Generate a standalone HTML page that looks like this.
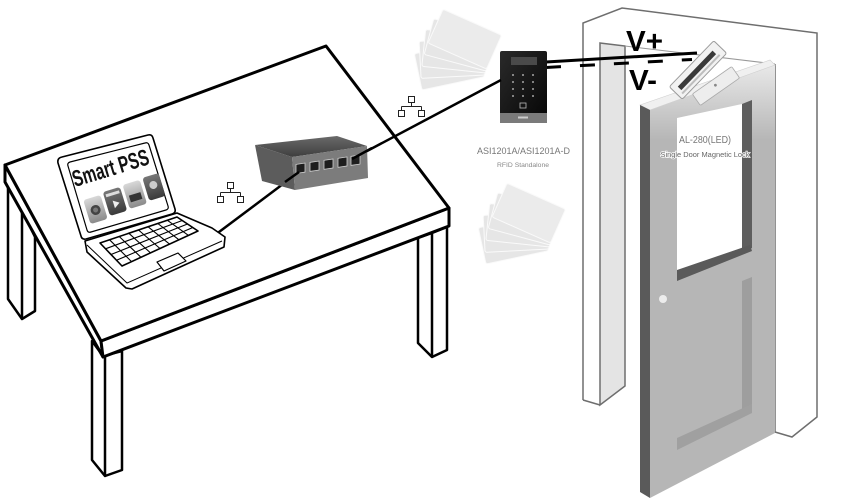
<!DOCTYPE html>
<html>
<head>
<meta charset="utf-8">
<style>
  html,body{margin:0;padding:0;background:#fff;}
  body{width:864px;height:502px;overflow:hidden;}
  svg{display:block;}
  text{font-family:"Liberation Sans",sans-serif;}
</style>
</head>
<body>
<svg width="864" height="502" viewBox="0 0 864 502" xmlns="http://www.w3.org/2000/svg">
  <defs>
    <linearGradient id="doorG" x1="0" y1="60" x2="0" y2="140" gradientUnits="userSpaceOnUse">
      <stop offset="0" stop-color="#ececec"/>
      <stop offset="1" stop-color="#b6b6b6"/>
    </linearGradient>
    <linearGradient id="kpG" x1="0" y1="0" x2="1" y2="1">
      <stop offset="0" stop-color="#2a2a2a"/>
      <stop offset="1" stop-color="#050505"/>
    </linearGradient>
    <linearGradient id="swTop" x1="0" y1="0" x2="0" y2="1">
      <stop offset="0" stop-color="#6a6a6a"/>
      <stop offset="1" stop-color="#3e3e3e"/>
    </linearGradient>
    <linearGradient id="icoA" x1="0" y1="0" x2="0" y2="1">
      <stop offset="0" stop-color="#d8d8d8"/>
      <stop offset="1" stop-color="#8a8a8a"/>
    </linearGradient>
    <linearGradient id="icoB" x1="0" y1="0" x2="0" y2="1">
      <stop offset="0" stop-color="#777"/>
      <stop offset="1" stop-color="#3a3a3a"/>
    </linearGradient>
  </defs>

  <!-- ================= DOOR / WALL ================= -->
  <g stroke="#6e6e6e" stroke-width="1.5" fill="none">
    <polyline points="583,400 583,23 622,8 817,33 817,417 792,437 775,432"/>
    <polygon points="600,43 625,46 625,386 600,405" fill="#e4e4e4"/>
    <polyline points="583,400 600,405"/>
    <line x1="775" y1="64" x2="775" y2="432"/>
    <line x1="625" y1="46" x2="775" y2="64" stroke="#999" stroke-width="1"/>
  </g>

  <polygon points="650,110 775,65 775,433 650,498" fill="url(#doorG)"/>
  <polygon points="640,105 770,60 775,65 650,110" fill="#f0f0f0" stroke="#cfcfcf" stroke-width="0.6"/>
  <polygon points="640,105 650,110 650,498 640,492" fill="#5a5a5a"/>
  <polygon points="677,118 742,104 742,248 677,272" fill="#ffffff"/>
  <polygon points="742,104 752,100 752,248 742,252" fill="#5e5e5e"/>
  <polygon points="677,270 750,245 752,251 677,281" fill="#5a5a5a"/>
  <polygon points="742,281 752,277 752,410 742,415" fill="#9e9e9e"/>
  <polygon points="677,438 752,404 752,413 677,450" fill="#a0a0a0"/>
  <circle cx="663" cy="299" r="4" fill="#ececec"/>

  <!-- magnetic lock -->
  <g transform="translate(698,70) rotate(-46)">
    <rect x="-32" y="-9" width="64" height="18" rx="2" fill="#f2f2f2" stroke="#9a9a9a" stroke-width="1"/>
    <rect x="-26" y="-3" width="50" height="5" fill="#3a3a3a"/>
    <rect x="-28" y="4" width="54" height="2" fill="#bdbdbd"/>
  </g>
  <g transform="translate(716,86) rotate(-35)">
    <rect x="-24" y="-7" width="48" height="14" rx="1.5" fill="#ededed" stroke="#aaa" stroke-width="0.8"/>
    <circle cx="0" cy="-1" r="1.4" fill="#888"/>
  </g>

  <line x1="546" y1="62" x2="697" y2="53" stroke="#000" stroke-width="3"/>
  <line x1="546" y1="67.5" x2="692" y2="59.5" stroke="#000" stroke-width="3" stroke-dasharray="15 19"/>

  <text x="626" y="51" font-size="29" font-weight="bold" fill="#000" textLength="37" lengthAdjust="spacingAndGlyphs">V+</text>
  <text x="629" y="90" font-size="29" font-weight="bold" fill="#000" textLength="28" lengthAdjust="spacingAndGlyphs">V-</text>

  <text x="705" y="143" font-size="10" fill="#777" text-anchor="middle" textLength="52" lengthAdjust="spacingAndGlyphs">AL-280(LED)</text>
  <text x="705" y="157" font-size="7" fill="#666" stroke="#fff" stroke-width="1.4" paint-order="stroke" text-anchor="middle" textLength="89" lengthAdjust="spacingAndGlyphs">Single Door Magnetic Lock</text>

  <!-- ================= CARDS ================= -->
  <g fill="#e6e6e6" stroke="#fafafa" stroke-width="1">
    <rect x="-64" y="-37" width="64" height="37" rx="2" transform="translate(484.6,76.7) rotate(-12)"/>
    <rect x="-64" y="-37" width="64" height="37" rx="2" transform="translate(485,75) rotate(-3)"/>
    <rect x="-64" y="-37" width="64" height="37" rx="2" transform="translate(485.5,73) rotate(6)"/>
    <rect x="-64" y="-37" width="64" height="37" rx="2" transform="translate(486,71) rotate(15)"/>
    <rect x="-64" y="-37" width="64" height="37" rx="2" transform="translate(486.5,69) rotate(24)" fill="#ebebeb"/>
  </g>
  <g transform="translate(64,174)" fill="#e6e6e6" stroke="#fafafa" stroke-width="1">
    <rect x="-64" y="-37" width="64" height="37" rx="2" transform="translate(484.6,76.7) rotate(-12)"/>
    <rect x="-64" y="-37" width="64" height="37" rx="2" transform="translate(485,75) rotate(-3)"/>
    <rect x="-64" y="-37" width="64" height="37" rx="2" transform="translate(485.5,73) rotate(6)"/>
    <rect x="-64" y="-37" width="64" height="37" rx="2" transform="translate(486,71) rotate(15)"/>
    <rect x="-64" y="-37" width="64" height="37" rx="2" transform="translate(486.5,69) rotate(24)" fill="#ebebeb"/>
  </g>

  <!-- ================= KEYPAD ================= -->
  <rect x="500" y="51" width="47" height="72" rx="2" fill="url(#kpG)"/>
  <rect x="500" y="113" width="47" height="10" fill="#7a7a7a"/>
  <rect x="518" y="116.5" width="10" height="2" fill="#ccc"/>
  <rect x="511" y="57" width="26" height="8" fill="#4a4a4a"/>
  <g fill="#cfcfcf">
    <circle cx="513" cy="75" r="0.9"/><circle cx="523" cy="75" r="0.9"/><circle cx="533" cy="75" r="0.9"/>
    <circle cx="513" cy="82" r="0.9"/><circle cx="523" cy="82" r="0.9"/><circle cx="533" cy="82" r="0.9"/>
    <circle cx="513" cy="89" r="0.9"/><circle cx="523" cy="89" r="0.9"/><circle cx="533" cy="89" r="0.9"/>
    <circle cx="513" cy="96" r="0.9"/><circle cx="523" cy="96" r="0.9"/><circle cx="533" cy="96" r="0.9"/>
  </g>
  <rect x="520" y="103" width="6" height="5" fill="none" stroke="#bbb" stroke-width="0.8"/>

  <text x="523.5" y="154" font-size="9.5" fill="#777" text-anchor="middle" textLength="93" lengthAdjust="spacingAndGlyphs">ASI1201A/ASI1201A-D</text>
  <text x="523" y="167" font-size="6.5" fill="#888" text-anchor="middle" textLength="52" lengthAdjust="spacingAndGlyphs">RFID Standalone</text>

  <!-- ================= TABLE ================= -->
  <g stroke="#000" stroke-width="3" stroke-linejoin="round" fill="#fff">
    <polygon points="8,183 22,210 35,237 35,311 22,319 8,299" stroke-width="2.5"/>
    <line x1="22" y1="210" x2="22" y2="319" stroke-width="2.5"/>
    <polygon points="92,341 103,356 122,351 122,470 105,476 92,460" stroke-width="2.5"/>
    <line x1="105" y1="356" x2="105" y2="476" stroke-width="2.5"/>
    <polygon points="418,238 432,233 447,227 447,350 432,357 418,343" stroke-width="2.5"/>
    <line x1="432" y1="233" x2="432" y2="357" stroke-width="2.5"/>
    <polygon points="5,165 101,341 103,357 5,182"/>
    <polygon points="101,341 449,208 449,226 103,357"/>
    <polygon points="5,165 326,46 449,208 101,341"/>
  </g>

  <!-- ================= CABLES ================= -->
  <line x1="215" y1="235" x2="299" y2="172" stroke="#000" stroke-width="2.5"/>
  <line x1="352" y1="159" x2="501" y2="80" stroke="#000" stroke-width="2.5"/>

  <!-- ================= SWITCH ================= -->
  <polygon points="255,145 337,136 367,146 292,157" fill="url(#swTop)"/>
  <polygon points="255,145 292,157 295,190 262,181" fill="#5c5c5c"/>
  <polygon points="292,157 367,146 368,178 295,190" fill="#7c7c7c"/>
  <g transform="translate(292,157) skewY(-8.3)" fill="#1e1e1e" stroke="#cfcfcf" stroke-width="0.8">
    <rect x="4" y="8" width="9" height="9"/>
    <rect x="18" y="8" width="9" height="9"/>
    <rect x="32" y="8" width="9" height="9"/>
    <rect x="46" y="8" width="9" height="9"/>
    <rect x="59" y="8" width="9" height="9"/>
  </g>
  <line x1="352" y1="159" x2="372" y2="148" stroke="#000" stroke-width="2.5"/>
  <line x1="285" y1="182" x2="299" y2="172" stroke="#000" stroke-width="2.5"/>

  <!-- ================= NETWORK ICONS ================= -->
  <g fill="#fff" stroke="#222" stroke-width="1">
    <g transform="translate(217,182)">
      <rect x="10.5" y="0.5" width="6" height="6"/>
      <path d="M13.5 6.5V10.5M3.5 10.5H23.5M3.5 10.5V14.5M23.5 10.5V14.5" fill="none"/>
      <rect x="0.5" y="14.5" width="6" height="6"/>
      <rect x="20.5" y="14.5" width="6" height="6"/>
    </g>
    <g transform="translate(398,96)">
      <rect x="10.5" y="0.5" width="6" height="6"/>
      <path d="M13.5 6.5V10.5M3.5 10.5H23.5M3.5 10.5V14.5M23.5 10.5V14.5" fill="none"/>
      <rect x="0.5" y="14.5" width="6" height="6"/>
      <rect x="20.5" y="14.5" width="6" height="6"/>
    </g>
  </g>

  <!-- ================= LAPTOP ================= -->
  <g stroke="#000" stroke-width="1.6" stroke-linejoin="round" fill="#fff">
    <polygon points="85,241 177,213 212,228 225,237 224,247 132,289 126,288 87,252"/>
    <polyline points="87,245 127,283 222,241" fill="none" stroke-width="1"/>
    <polygon points="100,243 177,217 198,231 122,266"/>
    <g fill="none" stroke-width="1.1">
      <line x1="109.6" y1="239.8" x2="131.5" y2="261.6"/>
      <line x1="119.2" y1="236.5" x2="141" y2="257.3"/>
      <line x1="128.9" y1="233.3" x2="150.5" y2="252.9"/>
      <line x1="138.5" y1="230" x2="160" y2="248.5"/>
      <line x1="148.1" y1="226.8" x2="169.5" y2="244.1"/>
      <line x1="157.8" y1="223.5" x2="179" y2="239.8"/>
      <line x1="167.4" y1="220.3" x2="188.5" y2="235.4"/>
      <line x1="105.5" y1="248.8" x2="182.3" y2="220.5"/>
      <line x1="111" y1="254.5" x2="187.5" y2="224"/>
      <line x1="116.5" y1="260.3" x2="192.8" y2="227.5"/>
    </g>
    <polygon points="157,262 178,253 186,261 164,271" stroke-width="1.2"/>
    <path d="M62,157 L148,135 Q152,134 153,138 L175,209 Q176,213 172,214 L86,239 Q82,240 81,236 L58,163 Q57,158 62,157 Z"/>
    <path d="M70,162 L145,143 Q148,142 149,145 L168,206 Q169,209 166,210 L91,232 Q88,233 87,230 L68,166 Q67,163 70,162 Z" stroke-width="1.2"/>
  </g>
  <g transform="translate(75,187) rotate(-17)">
    <text x="0" y="0" font-size="23" font-weight="bold" fill="#111" textLength="79" lengthAdjust="spacingAndGlyphs">Smart PSS</text>
    <rect x="4" y="15" width="18" height="25" rx="3" fill="url(#icoA)"/>
    <circle cx="13" cy="28" r="5" fill="#444"/>
    <circle cx="13" cy="28" r="2.5" fill="#777"/>
    <rect x="25" y="13" width="18" height="25" rx="3" fill="url(#icoB)"/>
    <rect x="27" y="16" width="14" height="3" fill="#ddd"/>
    <polygon points="32,24 32,32 38,28" fill="#eee"/>
    <rect x="46" y="12" width="18" height="25" rx="3" fill="url(#icoA)"/>
    <rect x="49" y="24" width="12" height="7" fill="#333"/>
    <rect x="67" y="11" width="17" height="24" rx="3" fill="url(#icoB)"/>
    <circle cx="75.5" cy="21" r="4" fill="#ccc"/>
  </g>
</svg>
</body>
</html>
